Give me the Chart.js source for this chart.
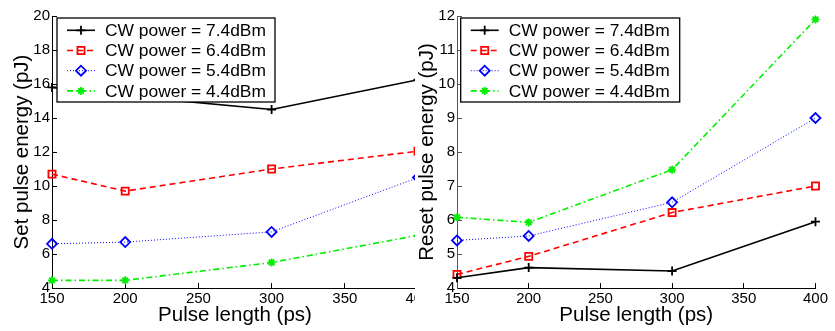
<!DOCTYPE html>
<html>
<head>
<meta charset="utf-8">
<script src="https://cdn.jsdelivr.net/npm/chart.js@4.4.0/dist/chart.umd.min.js"></script>
<style>
html, body { margin: 0; padding: 0; background: #fff; }
#wrapL { position: absolute; left: 0; top: 0; width: 415px; height: 331px; overflow: hidden; }
#wrapR { position: absolute; left: 415px; top: 0; width: 420px; height: 331px; background: #fff; }
</style>
</head>
<body>
<div id="wrapL"><canvas id="set-chart" width="440" height="331"></canvas></div>
<div id="wrapR"><canvas id="reset-chart" width="420" height="331"></canvas></div>
<script>
// pulse lengths (ps)
var pulseLengths = [150, 200, 300, 400];
var powerLabels = ['CW power = 7.4dBm', 'CW power = 6.4dBm', 'CW power = 5.4dBm', 'CW power = 4.4dBm'];

// set pulse energy (pJ)
var setP74 = [15.8, 15.3, 14.5, 16.25];
var setP64 = [10.7, 9.7, 11.0, 12.05];
var setP54 = [6.6, 6.7, 7.3, 10.5];
var setP44 = [4.45, 4.45, 5.5, 7.1];

// reset pulse energy (pJ)
var resetP74 = [4.3, 4.6, 4.5, 5.95];
var resetP64 = [4.4, 4.93, 6.22, 7.0];
var resetP54 = [5.4, 5.53, 6.52, 9.0];
var resetP44 = [6.08, 5.93, 7.48, 11.9];

var FONT = '"Liberation Sans", Arial, sans-serif';

var styles = [
	{ color: '#000000', dash: [], width: 1.6, point: 'cross', r: 4.5 },
	{ color: '#ff0000', dash: [6, 4], width: 1.6, point: 'rect', r: 5 },
	{ color: '#0000ff', dash: [1, 2], width: 1, point: 'rectRot', r: 5 },
	{ color: '#00ee00', dash: [6, 3, 1.5, 3], width: 1.6, point: 'star', r: 4 }
];

function makeDatasets(series) {
	return series.map(function (vals, i) {
		var s = styles[i];
		return {
			label: powerLabels[i],
			data: pulseLengths.map(function (x, j) { return { x: x, y: vals[j] }; }),
			borderColor: s.color,
			backgroundColor: s.color,
			borderWidth: s.width,
			borderDash: s.dash,
			pointStyle: s.point,
			pointRadius: s.r,
			pointBorderWidth: 1.8,
			pointBorderColor: s.color,
			pointBackgroundColor: 'rgba(0,0,0,0)',
			tension: 0,
			fill: false,
			clip: false
		};
	});
}

// boxed legend like the original figure
var boxLegend = {
	id: 'boxLegend',
	afterDatasetsDraw: function (chart, args, opts) {
		var ctx = chart.ctx;
		ctx.save();
		ctx.fillStyle = '#fff';
		ctx.fillRect(opts.x, opts.y, opts.w, opts.h);
		ctx.lineWidth = 1.3;
		ctx.strokeStyle = '#000';
		ctx.setLineDash([]);
		ctx.strokeRect(opts.x, opts.y, opts.w, opts.h);
		chart.data.datasets.forEach(function (ds, i) {
			var cy = opts.y + 12.3 + i * 20.2;
			ctx.strokeStyle = ds.borderColor;
			ctx.lineWidth = ds.borderWidth;
			ctx.setLineDash(ds.borderDash);
			ctx.beginPath();
			ctx.moveTo(opts.x + 10, cy);
			ctx.lineTo(opts.x + 38, cy);
			ctx.stroke();
			ctx.setLineDash([]);
			ctx.fillStyle = 'rgba(0,0,0,0)';
			ctx.lineWidth = ds.pointBorderWidth;
			Chart.helpers.drawPoint(ctx, {
				pointStyle: ds.pointStyle,
				radius: ds.pointRadius,
				borderWidth: ds.pointBorderWidth,
				rotation: 0
			}, opts.x + 24, cy);
			ctx.fillStyle = '#000';
			ctx.font = '17.4px ' + FONT;
			ctx.textBaseline = 'middle';
			ctx.textAlign = 'left';
			ctx.fillText(ds.label, opts.x + 48, cy + 1);
		});
		ctx.restore();
	}
};

function makeChart(id, series, yTitle, yMin, yMax, yStep, o) {
	return new Chart(document.getElementById(id), {
		type: 'line',
		data: { datasets: makeDatasets(series) },
		plugins: [boxLegend],
		options: {
			responsive: false,
			animation: false,
			devicePixelRatio: 1,
			layout: { padding: { top: 15, right: o.padRight, left: 0, bottom: 0 } },
			plugins: {
				legend: { display: false },
				tooltip: { enabled: false },
				boxLegend: o.legend
			},
			scales: {
				x: {
					type: 'linear',
					min: 150, max: 400,
					ticks: { stepSize: 50, color: '#000', padding: 7, font: { family: FONT, size: 15 } },
					grid: { drawOnChartArea: false, drawTicks: true, tickLength: -5, color: '#000' },
					border: { color: '#000', width: 1 },
					title: { display: true, text: 'Pulse length (ps)', color: '#000', font: { family: FONT, size: 20.5 }, padding: { top: 0, bottom: 3 } },
					afterFit: function (scale) { scale.height = 43; }
				},
				y: {
					min: yMin, max: yMax,
					ticks: { stepSize: yStep, color: '#000', padding: 7, font: { family: FONT, size: 15 } },
					grid: { drawOnChartArea: false, drawTicks: true, tickLength: -5, color: o.axisColor },
					border: { color: o.axisColor, width: 1 },
					title: { display: true, text: yTitle, color: '#000', font: { family: FONT, size: 20.5 }, padding: { top: o.titlePad, bottom: 0 } },
					afterFit: function (scale) { scale.width = o.yWidth; }
				}
			}
		}
	});
}

makeChart('set-chart', [setP74, setP64, setP54, setP44], 'Set pulse energy (pJ)', 4, 20, 2, {
	padRight: 22, yWidth: 52, titlePad: 10, axisColor: '#000',
	legend: { x: 57, y: 18, w: 218, h: 84 }
});

makeChart('reset-chart', [resetP74, resetP64, resetP54, resetP44], 'Reset pulse energy (pJ)', 4, 12, 1, {
	padRight: 13, yWidth: 42, titlePad: 0, axisColor: '#555',
	legend: { x: 45.7, y: 18, w: 219, h: 84 }
});
</script>
</body>
</html>
